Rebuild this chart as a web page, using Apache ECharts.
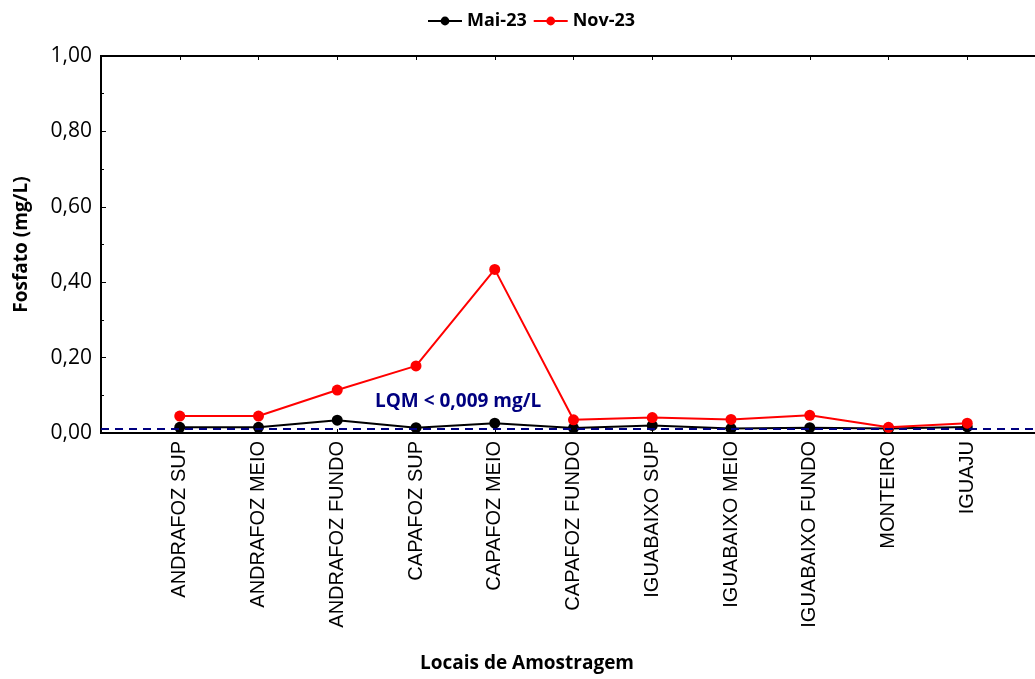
<!DOCTYPE html>
<html>
<head>
<meta charset="utf-8">
<script src="https://cdn.jsdelivr.net/npm/echarts@6/dist/echarts.min.js"></script>
<style>html,body{margin:0;padding:0;background:#fff}#c{width:1035px;height:679px}</style>
</head>
<body>
<div id="c"></div>
<script>
const categories = ['ANDRAFOZ SUP','ANDRAFOZ MEIO','ANDRAFOZ FUNDO','CAPAFOZ SUP','CAPAFOZ MEIO','CAPAFOZ FUNDO','IGUABAIXO SUP','IGUABAIXO MEIO','IGUABAIXO FUNDO','MONTEIRO','IGUAJU'];
const mai23 = [0.015,0.015,0.034,0.014,0.026,0.013,0.020,0.012,0.014,0.012,0.016];
const nov23 = [0.045,0.045,0.114,0.178,0.434,0.035,0.041,0.036,0.047,0.015,0.026];
const lqm = 0.009;
const lqmLabel = 'LQM < 0,009 mg/L';
const xTitle = 'Locais de Amostragem';
const yTitle = 'Fosfato (mg/L)';

const toPairs = arr => arr.map((v,i)=>[i+1,v]);
const chart = echarts.init(document.getElementById('c'));
chart.setOption({
  animation:false,
  backgroundColor:'#fff',
  legend:{
    top:7, left:422, itemWidth:34, itemHeight:11, itemGap:6,
    textStyle:{fontFamily:'Open Sans',fontWeight:'bold',fontSize:18,color:'#000'},
    data:['Mai-23','Nov-23']
  },
  grid:{left:101,top:56,right:-11,bottom:246,show:true,borderColor:'#000',borderWidth:2,
    containLabel:false,outerBoundsMode:'none'},
  xAxis:[{
    type:'value',min:0,max:categories.length+1,interval:1,position:'bottom',
    axisLine:{lineStyle:{color:'#000',width:2}},
    axisTick:{inside:true,length:4,lineStyle:{color:'#000'}},
    splitLine:{show:false},
    axisLabel:{rotate:90,margin:8,fontFamily:'Liberation Sans',fontSize:20,color:'#000',
      formatter:v=> (v>=1 && v<=categories.length) ? categories[v-1] : ''}
  },{
    type:'value',min:0,max:categories.length+1,interval:1,position:'top',
    axisLine:{lineStyle:{color:'#000',width:2}},
    axisTick:{inside:true,length:4,lineStyle:{color:'#000'}},
    axisLabel:{show:false},splitLine:{show:false}
  }],
  yAxis:{
    type:'value',min:0,max:1,interval:0.2,
    name:yTitle,nameLocation:'middle',nameGap:70,
    nameTextStyle:{fontFamily:'Open Sans',fontWeight:'bold',fontSize:19,color:'#000'},
    axisLine:{show:true,lineStyle:{color:'#000',width:2}},
    axisTick:{inside:true,length:5,lineStyle:{color:'#000'}},
    minorTick:{show:true,splitNumber:2,length:3,lineStyle:{color:'#000'}},
    splitLine:{show:false},
    axisLabel:{margin:9,fontFamily:'Open Sans',fontSize:21,color:'#000',
      formatter:v=>v.toFixed(2).replace('.',',')}
  },
  graphic:[
    {type:'text',left:375,top:392,style:{text:lqmLabel,fill:'#000080',font:'bold 19px "Open Sans"'}},
    {type:'text',x:527,y:664,style:{text:xTitle,fill:'#000',font:'bold 19px "Open Sans"',
      textAlign:'center',textVerticalAlign:'middle'}}
  ],
  series:[{
    name:'Mai-23',type:'line',data:toPairs(mai23),symbol:'circle',symbolSize:11,
    itemStyle:{color:'#000'},lineStyle:{color:'#000',width:2},
    markLine:{silent:true,symbol:'none',label:{show:false},
      lineStyle:{color:'#000080',type:[8,6],width:2},data:[{yAxis:lqm}]}
  },{
    name:'Nov-23',type:'line',data:toPairs(nov23),symbol:'circle',symbolSize:11,
    itemStyle:{color:'#ff0000'},lineStyle:{color:'#ff0000',width:2}
  }]
});
</script>
</body>
</html>
